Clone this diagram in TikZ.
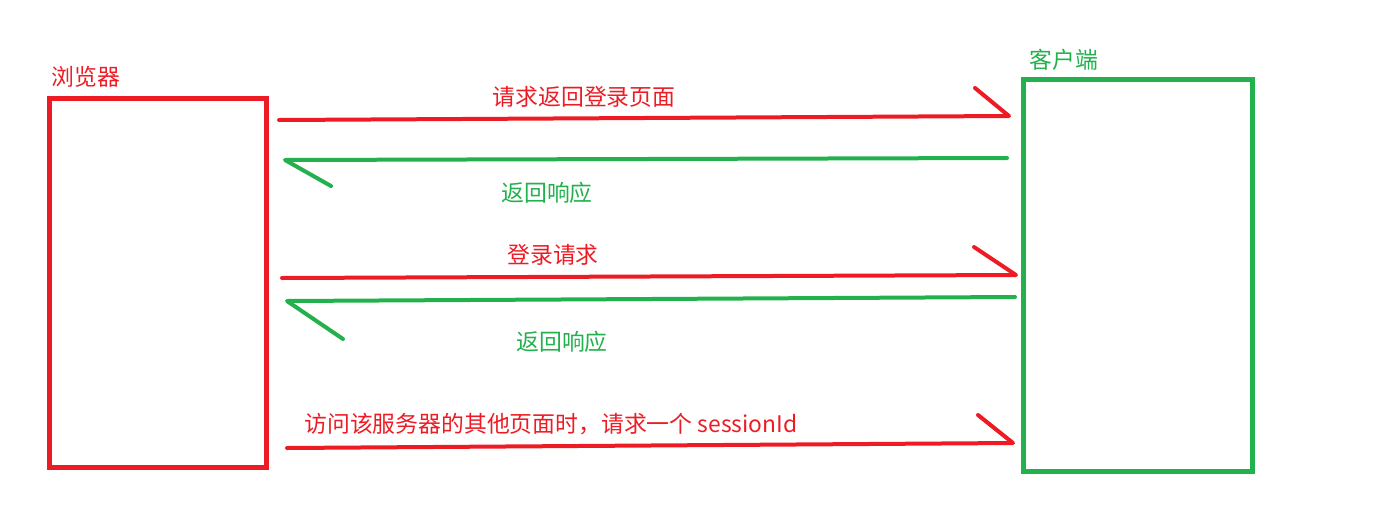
\documentclass[tikz,border=0pt]{standalone}
\usepackage{fontspec}
\usepackage{tikz}
\usetikzlibrary{calc}
\newfontfamily\cjk{Noto Sans CJK SC}

\definecolor{paintred}{HTML}{ED1C24}
\definecolor{paintgreen}{HTML}{22B14C}

\tikzset{
  boxred/.style={draw=paintred,line width=0.1cm,minimum width=4.36cm,minimum height=7.4cm,inner sep=0pt},
  boxgreen/.style={draw=paintgreen,line width=0.1cm,minimum width=4.6cm,minimum height=7.86cm,inner sep=0pt},
  reqline/.style={draw=paintred,line width=0.08cm,line cap=round,line join=round},
  respline/.style={draw=paintgreen,line width=0.08cm,line cap=round,line join=round},
  txt/.style={font=\cjk\fontsize{13pt}{15pt}\selectfont,inner sep=0pt},
}

\begin{document}
\begin{tikzpicture}[x=0.02cm,y=-0.02cm]
\useasboundingbox (0,0) rectangle (1396,504);

% Boxes
\node[boxred] (browser) at (158,283) {};
\node[boxgreen] (client) at (1138,275.5) {};
\node[txt,text=paintred,anchor=west] (browserlbl) at (51,77) {浏览器};
\node[txt,text=paintgreen,anchor=west] (clientlbl) at (1029,60) {客户端};

% Arrow ends
\coordinate (s1) at (279,120);
\coordinate (t1) at (1009,116);
\coordinate (s2) at (1007,158);
\coordinate (t2) at (285,160);
\coordinate (s3) at (282,278);
\coordinate (t3) at (1016,275);
\coordinate (s4) at (1015,297);
\coordinate (t4) at (287,301);
\coordinate (s5) at (287,448);
\coordinate (t5) at (1013,443);

% Requests
\draw[reqline] (s1) -- (t1) -- ++(-34,-28);
\draw[reqline] (s3) -- (t3) -- ++(-42,-28);
\draw[reqline] (s5) -- (t5) -- ++(-35,-28);

% Responses
\draw[respline] (s2) -- (t2) -- ++(46,26);
\draw[respline] (s4) -- (t4) -- ++(56,38);

% Labels
\node[txt,text=paintred] (lbl1) at (584,97) {请求返回登录页面};
\node[txt,text=paintgreen] (lbl2) at (547,193) {返回响应};
\node[txt,text=paintred] (lbl3) at (553,255) {登录请求};
\node[txt,text=paintgreen] (lbl4) at (562,342) {返回响应};
\node[txt,text=paintred,anchor=west] (lbl5) at (304,424) {访问该服务器的其他页面时，请求一个 sessionId};

\end{tikzpicture}
\end{document}
